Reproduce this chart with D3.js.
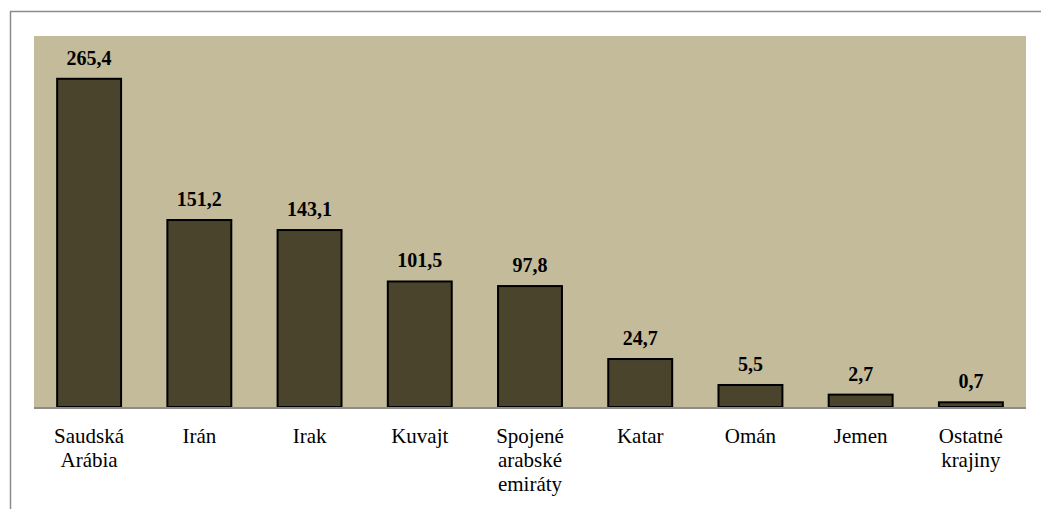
<!DOCTYPE html>
<html>
<head>
<meta charset="utf-8">
<script src="https://cdn.jsdelivr.net/npm/d3@7"></script>
<style>
  body { margin: 0; background: #fff; }
  #wrap { position: relative; width: 1041px; height: 509px; }
  svg { display: block; position: absolute; left: 0; top: 0; }
</style>
</head>
<body>
<div id="wrap"><svg id="chart"></svg></div>
<script>
// data
const categories = ["Saudská Arábia", "Irán", "Irak", "Kuvajt", "Spojené arabské emiráty", "Katar", "Omán", "Jemen", "Ostatné krajiny"];
const catLines = [["Saudská", "Arábia"], ["Irán"], ["Irak"], ["Kuvajt"], ["Spojené", "arabské", "emiráty"], ["Katar"], ["Omán"], ["Jemen"], ["Ostatné", "krajiny"]];
const values = [265.4, 151.2, 143.1, 101.5, 97.8, 24.7, 5.5, 2.7, 0.7];
// bar heights as drawn in the picture (the small bars are drawn taller than their labels)
const barHeights = [265.4, 151.2, 143.1, 101.5, 97.8, 38.8, 17.8, 10, 3.8];
const yMax = 300;

let width = 1041, height = 509,
    plot = {left: 34, right: 1026, top: 36, bottom: 408},
    fmt = v => d3.format(".1f")(v).replace(".", ","),
    xScale = d3.scaleBand().domain(categories).range([plot.left, plot.right]).paddingInner(0.42).paddingOuter(0.21),
    yScale = d3.scaleLinear().domain([0, yMax]).range([plot.bottom - 1, plot.top]),
    xMid = d => xScale(d.cat) + xScale.bandwidth() / 2,
    svg = d3.select("#chart").attr("width", width).attr("height", height),
    wrap = d3.select("#wrap");

// outer frame (top + left only visible)
svg.append("path")
   .attr("d", `M10.5,${height} V11.5 H${width}`)
   .attr("fill", "none")
   .attr("stroke", "#8c8c8c")
   .attr("stroke-width", 1.5);

// plot background
svg.append("rect")
   .attr("x", plot.left)
   .attr("y", plot.top)
   .attr("width", plot.right - plot.left)
   .attr("height", plot.bottom - plot.top)
   .attr("fill", "#c4bb9a");

let data = categories.map((c, i) => ({cat: c, value: values[i], h: barHeights[i], lines: catLines[i]}));

svg.selectAll(".bar")
   .data(data)
   .enter()
   .append("rect")
   .classed("bar", true)
   .attr("x", d => xScale(d.cat))
   .attr("y", d => yScale(d.h))
   .attr("width", xScale.bandwidth())
   .attr("height", d => yScale(0) - yScale(d.h))
   .attr("fill", "#4a442d")
   .attr("stroke", "#000")
   .attr("stroke-width", 2);

// x axis line
svg.append("line")
   .attr("x1", plot.left)
   .attr("x2", plot.right)
   .attr("y1", plot.bottom)
   .attr("y2", plot.bottom)
   .attr("stroke", "#8c8c8c")
   .attr("stroke-width", 2);

let base = "position:absolute;font-family:'Liberation Serif';color:#000;text-align:center;white-space:nowrap;";

// value labels
wrap.selectAll(".val")
   .data(data)
   .enter()
   .append("div")
   .attr("class", "val")
   .attr("style", d => base + `font-weight:bold;font-size:20px;line-height:20px;width:100px;left:${xMid(d) - 50}px;top:${yScale(d.h) - 31}px;`)
   .text(d => fmt(d.value));

// category labels
wrap.selectAll(".cat")
   .data(data)
   .enter()
   .append("div")
   .attr("class", "cat")
   .attr("style", d => base + `font-size:21px;line-height:24px;width:110px;left:${xMid(d) - 55}px;top:424px;`)
   .html(d => d.lines.join("<br>"));
</script>
</body>
</html>
